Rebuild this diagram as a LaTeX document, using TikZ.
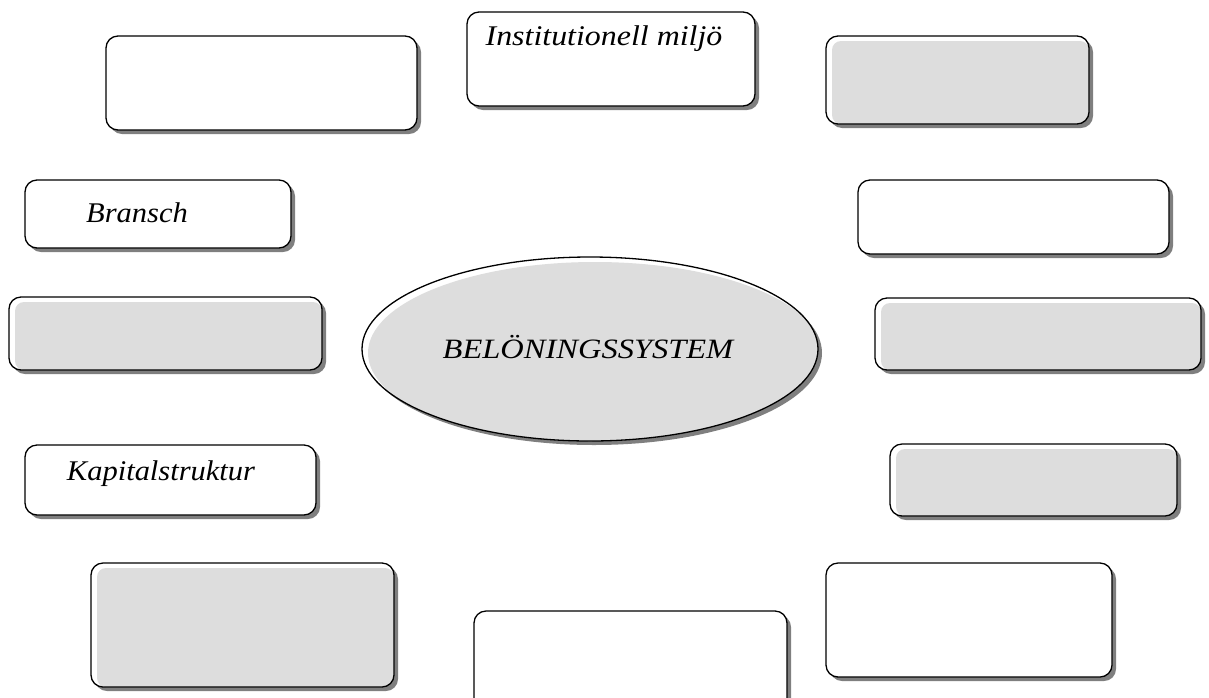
\documentclass[tikz,border=0pt]{standalone}
\usepackage{fontspec}
\usepackage{graphicx}
\setmainfont{Liberation Serif}
\usetikzlibrary{shadows,shapes.geometric}
\definecolor{boxgray}{HTML}{DDDDDD}
\definecolor{shadowgray}{HTML}{7F7F7F}
\tikzset{
  box/.style={draw=black, line width=1.3pt, rounded corners=12pt, fill=white,
    inner sep=0pt, outer sep=0pt,
    drop shadow={shadow xshift=4pt, shadow yshift=-4pt, fill=shadowgray, opacity=1}},
  gbox/.style={box, path picture={\fill[boxgray, rounded corners=9pt]
      ([xshift=6pt,yshift=-5pt]path picture bounding box.north west) rectangle
      (path picture bounding box.south east);}},
  lbl/.style={anchor=base, inner sep=0pt}
}
\begin{document}
\begin{tikzpicture}[x=1pt,y=-1pt]
\useasboundingbox (0,0) rectangle (1209,697);
% boxes: centre, width, height from pixel corners
\node[box,  minimum width=311pt, minimum height=94pt] (tl) at (261.5,83) {};
\node[box,  minimum width=288pt, minimum height=94pt] (inst) at (611,59) {};
\node[gbox, minimum width=263pt, minimum height=88pt] (tr) at (957.5,80) {};
\node[box,  minimum width=266pt, minimum height=68pt] (bransch) at (158,214) {};
\node[box,  minimum width=311pt, minimum height=74pt] (r1) at (1013.5,217) {};
\node[gbox, minimum width=313pt, minimum height=73pt] (l2) at (165.5,333.5) {};
\node[ellipse, draw=black, line width=1.3pt, fill=white, minimum width=456pt, minimum height=184pt,
  drop shadow={shadow xshift=4pt, shadow yshift=-4pt, fill=shadowgray, opacity=1},
  path picture={\fill[boxgray] ([xshift=5pt,yshift=-4pt]path picture bounding box.center) ellipse [x radius=227pt, y radius=91pt];}] (center) at (590,349) {};
\node[gbox, minimum width=326pt, minimum height=72pt] (r2) at (1038,334) {};
\node[box,  minimum width=291pt, minimum height=70pt] (kap) at (170.5,480) {};
\node[gbox, minimum width=287pt, minimum height=72pt] (r3) at (1033.5,480) {};
\node[gbox, minimum width=303pt, minimum height=124pt] (bl) at (242.5,625) {};
\node[box,  minimum width=313pt, minimum height=100pt] (bm) at (630.5,661) {};
\node[box,  minimum width=286pt, minimum height=114pt] (br) at (969,620) {};
% labels
\node[lbl] (tinst) at (604,45) {\scalebox{1.12}[1]{\itshape\fontsize{28.5}{32}\selectfont Institutionell miljö}};
\node[lbl] (tbransch) at (137,222) {\scalebox{1.07}[1]{\itshape\fontsize{28.5}{32}\selectfont Bransch}};
\node[lbl] (tkap) at (161,480) {\scalebox{1.07}[1]{\itshape\fontsize{28.5}{32}\selectfont Kapitalstruktur}};
\node[lbl] (tbel) at (588,358) {\scalebox{1.16}[1]{\itshape\fontsize{28}{32}\selectfont BELÖNINGSSYSTEM}};
\end{tikzpicture}
\end{document}
